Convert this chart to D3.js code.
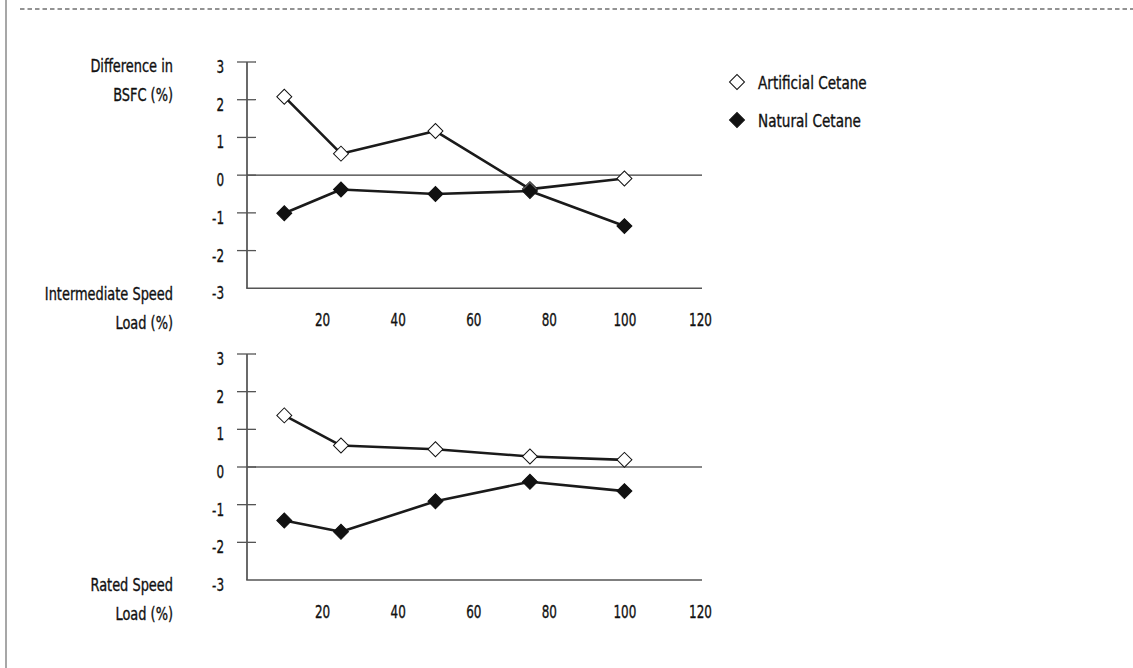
<!DOCTYPE html>
<html>
<head>
<meta charset="utf-8">
<script src="https://cdn.jsdelivr.net/npm/d3@7"></script>
<style>
  html, body { margin: 0; padding: 0; background: #fff; }
  svg { display: block; }
  text { font-family: "DejaVu Sans Condensed", "DejaVu Sans", sans-serif; fill: #111; stroke: #111; stroke-width: 0.35px; }
</style>
</head>
<body>
<svg id="chart" width="1133" height="668"></svg>
<script>
// ---- data ----
const loads = [10, 25, 50, 75, 100];
const intermediateArtificial = [2.08, 0.57, 1.17, -0.37, -0.09];
const intermediateNatural = [-1.01, -0.38, -0.50, -0.42, -1.35];
const ratedArtificial = [1.37, 0.57, 0.47, 0.28, 0.19];
const ratedNatural = [-1.42, -1.72, -0.91, -0.39, -0.64];
const xTicks = [20, 40, 60, 80, 100, 120];
const yTicks = [3, 2, 1, 0, -1, -2, -3];
const seriesNames = ["Artificial Cetane", "Natural Cetane"];
const yTitle = ["Difference in", "BSFC (%)"];
const intermediateTitle = ["Intermediate Speed", "Load (%)"];
const ratedTitle = ["Rated Speed", "Load (%)"];

const svg = d3.select("#chart");
const FS = 18;
const WORD_SX = 0.8, NUM_SX = 0.74;

// page frame: left rule and dashed top rule
svg.append("line").attr("x1", 6).attr("x2", 6).attr("y1", 0).attr("y2", 668)
  .attr("stroke", "#8a8a8a").attr("stroke-width", 1.5);
svg.append("line").attr("x1", 20).attr("x2", 1133).attr("y1", 9).attr("y2", 9)
  .attr("stroke", "#707070").attr("stroke-width", 1.5).attr("stroke-dasharray", "4.5,3");

const x = d3.scaleLinear().domain([0, 120]).range([246.5, 700]);
const axisX0 = 247, axisX1 = 702;

const diamond = d3.symbol().type(d3.symbolSquare).size(112);

function squeezed(sel, px, py, sx) {
  return sel.attr("transform", `translate(${px},${py}) scale(${sx},1)`);
}

function panel(top, bottom, artificial, natural, zeroColor, zeroWidth) {
  const y = d3.scaleLinear().domain([-3, 3]).range([bottom, top]);
  const g = svg.append("g");

  // zero line
  g.append("line").attr("x1", axisX0).attr("x2", axisX1)
    .attr("y1", y(0)).attr("y2", y(0))
    .attr("stroke", zeroColor).attr("stroke-width", zeroWidth);

  // y axis line
  g.append("line").attr("x1", axisX0).attr("x2", axisX0)
    .attr("y1", y(3)).attr("y2", y(-3))
    .attr("stroke", "#444").attr("stroke-width", 1.6);
  // x axis line
  g.append("line").attr("x1", axisX0 - 0.8).attr("x2", axisX1)
    .attr("y1", y(-3)).attr("y2", y(-3))
    .attr("stroke", "#555").attr("stroke-width", 1.4);

  // crossing tick marks (not at the baseline)
  g.selectAll(".ytick").data(yTicks.filter(v => v !== -3)).join("line")
    .attr("x1", axisX0 - 10).attr("x2", axisX0 + 9)
    .attr("y1", d => y(d)).attr("y2", d => y(d))
    .attr("stroke", "#555").attr("stroke-width", 1.3);

  // y tick labels
  g.selectAll(".ylab").data(yTicks).join("text")
    .attr("text-anchor", "end").attr("font-size", FS)
    .each(function (d) { squeezed(d3.select(this), 224, y(d) + 11, NUM_SX); })
    .text(d => d);

  // x axis labels via d3 axis
  const xa = d3.axisBottom(x).tickValues(xTicks).tickSize(0).tickPadding(0);
  const gx = g.append("g").attr("transform", `translate(0,${y(-3) + 38})`).call(xa);
  gx.select(".domain").remove();
  gx.selectAll("text").attr("dy", 0).attr("y", 0).attr("font-size", FS)
    .attr("font-family", null).attr("fill", null)
    .attr("transform", `scale(${NUM_SX},1)`);

  const line = d3.line().x((d, i) => x(loads[i])).y(d => y(d));
  [artificial, natural].forEach(vals => {
    g.append("path").datum(vals).attr("d", line)
      .attr("fill", "none").attr("stroke", "#1a1a1a").attr("stroke-width", 2.6)
      .attr("stroke-linejoin", "round");
  });
  // markers: artificial first, natural on top
  g.selectAll(".ma").data(artificial).join("path")
    .attr("d", diamond)
    .attr("transform", (d, i) => `translate(${x(loads[i])},${y(d)}) rotate(45)`)
    .attr("fill", "#fff").attr("stroke", "#111").attr("stroke-width", 1);
  g.selectAll(".mn").data(natural).join("path")
    .attr("d", diamond)
    .attr("transform", (d, i) => `translate(${x(loads[i])},${y(d)}) rotate(45)`)
    .attr("fill", "#111").attr("stroke", "#111").attr("stroke-width", 1);
}

panel(62, 288.3, intermediateArtificial, intermediateNatural, "#3a3a3a", 1.2);
panel(354, 580, ratedArtificial, ratedNatural, "#888", 2.2);

// left titles
function titleBlock(lines, baseline) {
  svg.append("g").selectAll("text").data(lines).join("text")
    .attr("text-anchor", "end").attr("font-size", FS)
    .each(function (d, i) { squeezed(d3.select(this), 173, baseline + i * 29, WORD_SX); })
    .text(d => d);
}
titleBlock(yTitle, 72);
titleBlock(intermediateTitle, 300);
titleBlock(ratedTitle, 591);

// legend
const leg = svg.append("g");
seriesNames.forEach((name, i) => {
  const cy = 82 + i * 38;
  leg.append("path").attr("d", diamond)
    .attr("transform", `translate(737,${cy}) rotate(45)`)
    .attr("fill", i === 0 ? "#fff" : "#111").attr("stroke", "#111").attr("stroke-width", 1);
  squeezed(leg.append("text"), 758, cy + 6.5, 0.84)
    .attr("font-size", FS).text(name);
});
</script>
</body>
</html>
